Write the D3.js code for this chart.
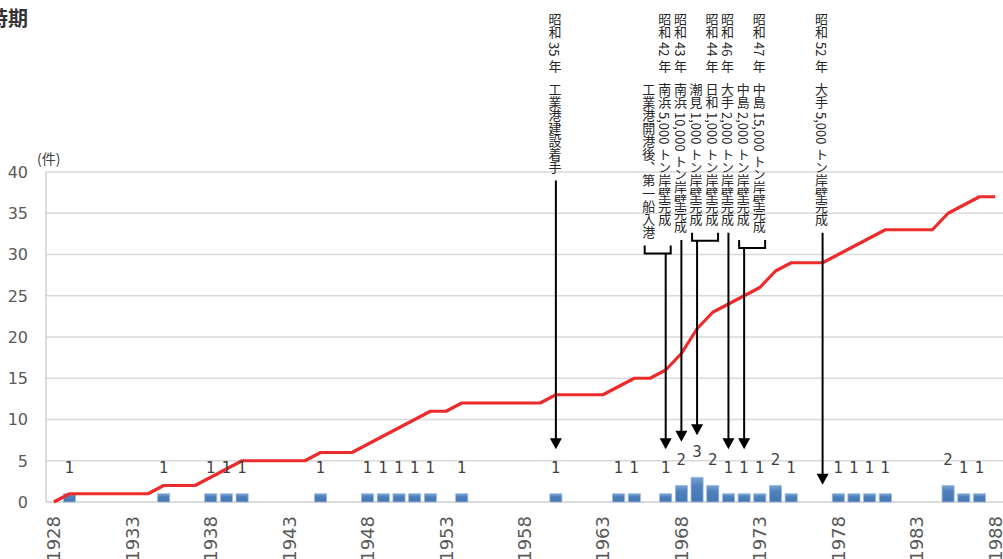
<!DOCTYPE html>
<html>
<head>
<meta charset="UTF-8">
<script src="https://cdnjs.cloudflare.com/ajax/libs/d3/7.8.5/d3.min.js"></script>
<style>
  body { margin: 0; background: #fff; }
  svg { display: block; }
  .vt {
    writing-mode: vertical-rl;
    font-family: "Noto Sans CJK JP", sans-serif;
    font-size: 13px;
    fill: #262626;
  }
</style>
</head>
<body>
<svg id="chart" width="1003" height="559"></svg>
<script>
// categories: one per year 1928..1988
var years = [1928,1929,1930,1931,1932,1933,1934,1935,1936,1937,1938,1939,1940,1941,1942,1943,1944,1945,1946,1947,
  1948,1949,1950,1951,1952,1953,1954,1955,1956,1957,1958,1959,1960,1961,1962,1963,1964,1965,1966,1967,
  1968,1969,1970,1971,1972,1973,1974,1975,1976,1977,1978,1979,1980,1981,1982,1983,1984,1985,1986,1987,1988];

// cumulative count (red line)
var cumulative = [0,1,1,1,1,1,1,2,2,2,3,4,5,5,5,5,5,6,6,6,
  7,8,9,10,11,11,12,12,12,12,12,12,13,13,13,13,14,15,15,16,
  18,21,23,24,25,26,28,29,29,29,30,31,32,33,33,33,33,35,36,37,37];

// yearly count (bars)
var barYears = [1929,1935,1938,1939,1940,1945,1948,1949,1950,1951,1952,1954,1960,1964,1965,1967,
  1968,1969,1970,1971,1972,1973,1974,1975,1978,1979,1980,1981,1985,1986,1987];
var barCounts = [1,1,1,1,1,1,1,1,1,1,1,1,1,1,1,1,
  2,3,2,1,1,1,2,1,1,1,1,1,2,1,1];

var tickYears = [1928,1933,1938,1943,1948,1953,1958,1963,1968,1973,1978,1983,1988];
var yTicks = [0,5,10,15,20,25,30,35,40];

// annotations
var noteYears = [1960, 1967, 1968, 1969, 1971, 1972, 1977];
var noteHeads = ["昭和 35 年", "昭和 42 年", "昭和 43 年", "昭和 44 年", "昭和 46 年", "昭和 47 年", "昭和 52 年"];
var noteBodies = [
  ["工業港建設着手"],
  ["工業港開港後、第一船入港", "南浜 5,000 トン岸壁完成"],
  ["南浜 10,000 トン岸壁完成"],
  ["潮見 1,000 トン岸壁完成", "日和 1,000 トン岸壁完成"],
  ["大手 2,000 トン岸壁完成"],
  ["中島 2,000 トン岸壁完成", "中島 15,000 トン岸壁完成"],
  ["大手 5,000 トン岸壁完成"]
];
var noteAnchorCol = [0, 1, 0, 0, 0, 0, 0];   // which column sits over the arrow
var noteTips = [6.4, 6.4, 7.3, 8.1, 6.4, 6.4, 2.1];

var svg = d3.select("#chart");

var x = d3.scalePoint().domain(years).range([46, 1003]).padding(0.5);
var step = x.step();
var y = d3.scaleLinear().domain([0, 40]).range([502, 172]);

// gradient for bars
var grad = svg.append("defs").append("linearGradient")
  .attr("id", "barGrad").attr("x1", 0).attr("x2", 0).attr("y1", 0).attr("y2", 1);
grad.append("stop").attr("offset", "0%").attr("stop-color", "#7aa2d4");
grad.append("stop").attr("offset", "35%").attr("stop-color", "#4f81bd");
grad.append("stop").attr("offset", "100%").attr("stop-color", "#4676b2");

// gridlines
svg.append("g").selectAll("line")
  .data(yTicks.slice(1))
  .enter().append("line")
  .attr("x1", 46).attr("x2", 1003)
  .attr("y1", function (d) { return y(d); })
  .attr("y2", function (d) { return y(d); })
  .attr("stroke", "#d9d9d9").attr("stroke-width", 1.5);

// axes lines
svg.append("line").attr("x1", 46).attr("x2", 1003).attr("y1", y(0)).attr("y2", y(0))
  .attr("stroke", "#d0d0d0").attr("stroke-width", 1.5);
svg.append("line").attr("x1", 46).attr("x2", 46).attr("y1", y(40)).attr("y2", y(0))
  .attr("stroke", "#d0d0d0").attr("stroke-width", 1.5);

// y tick labels
svg.append("g").selectAll("text")
  .data(yTicks)
  .enter().append("text")
  .attr("x", 28)
  .attr("y", function (d) { return y(d); })
  .attr("dy", "0.36em")
  .attr("text-anchor", "end")
  .style("font-family", "DejaVu Sans, Verdana, sans-serif")
  .style("font-size", "16px")
  .style("fill", "#595959")
  .text(function (d) { return d; });

svg.append("text")
  .attr("x", 37).attr("y", 164)
  .style("font-family", "Noto Sans CJK JP, sans-serif")
  .style("font-size", "14px")
  .style("fill", "#404040")
  .text("(件)");

// x tick labels
svg.append("g").selectAll("text")
  .data(tickYears)
  .enter().append("text")
  .attr("transform", function (d) { return "translate(" + x(d) + ",516) rotate(-90)"; })
  .attr("dy", "0.36em")
  .attr("text-anchor", "end")
  .style("font-family", "DejaVu Sans, Verdana, sans-serif")
  .style("font-size", "18px")
  .style("fill", "#595959")
  .text(function (d) { return d; });

// bars
var barW = step * 0.77;
var bars = barYears.map(function (yr, i) { return { year: yr, count: barCounts[i] }; });
svg.append("g").selectAll("rect")
  .data(bars)
  .enter().append("rect")
  .attr("x", function (d) { return x(d.year) - barW / 2; })
  .attr("y", function (d) { return y(d.count); })
  .attr("width", barW)
  .attr("height", function (d) { return y(0) - y(d.count); })
  .attr("fill", "url(#barGrad)")
  .attr("stroke", "#9db9dd").attr("stroke-width", 0.8);

// red cumulative line
var line = d3.line()
  .x(function (d, i) { return x(years[i]); })
  .y(function (d) { return y(d); });
svg.append("path")
  .datum(cumulative)
  .attr("d", line)
  .attr("fill", "none")
  .attr("stroke", "#ee2b2b")
  .attr("stroke-width", 3.2)
  .attr("stroke-linejoin", "round");

// bar value labels
svg.append("g").selectAll("text")
  .data(bars)
  .enter().append("text")
  .attr("x", function (d) { return x(d.year); })
  .attr("y", function (d) { return y(d.count) - 20.5; })
  .attr("text-anchor", "middle")
  .style("font-family", "DejaVu Sans, Verdana, sans-serif")
  .style("font-size", "15px")
  .style("fill", "#404040")
  .text(function (d) { return d.count; });

// title (cut at the left edge)
svg.append("text")
  .attr("x", -12).attr("y", 26)
  .style("font-family", "Noto Sans CJK JP, sans-serif")
  .style("font-size", "20px")
  .style("font-weight", "bold")
  .style("fill", "#333")
  .text("時期");

// annotations
var colGap = 16;
var ann = svg.append("g");
noteYears.forEach(function (yr, i) {
  var ax = x(yr);
  var cols = noteBodies[i];
  var g = ann.append("g");
  var bottom = 0;
  var colX = cols.map(function (c, j) { return ax + (j - noteAnchorCol[i]) * colGap - 1; });

  g.append("text").attr("class", "vt")
    .attr("x", colX[colX.length - 1]).attr("y", 13)
    .text(noteHeads[i]);

  cols.forEach(function (c, j) {
    var t = g.append("text").attr("class", "vt")
      .attr("x", colX[j]).attr("y", 83)
      .text(c);
    var b = t.node().getBBox();
    bottom = Math.max(bottom, b.y + b.height);
  });

  var start = bottom + 6;
  if (cols.length > 1) {
    var left = colX[0] - 4, right = colX[colX.length - 1] + 6;
    g.append("path")
      .attr("d", "M" + left + "," + start + "V" + (start + 8) + "H" + right + "V" + start)
      .attr("fill", "none").attr("stroke", "#000").attr("stroke-width", 2);
    start += 8;
  }
  var tip = y(noteTips[i]);
  g.append("line")
    .attr("x1", ax).attr("x2", ax)
    .attr("y1", start).attr("y2", tip - 8)
    .attr("stroke", "#000").attr("stroke-width", 2);
  g.append("path")
    .attr("d", "M" + (ax - 6) + "," + (tip - 11) + "L" + (ax + 6) + "," + (tip - 11) + "L" + ax + "," + tip + "Z")
    .attr("fill", "#000");
});
</script>
</body>
</html>
